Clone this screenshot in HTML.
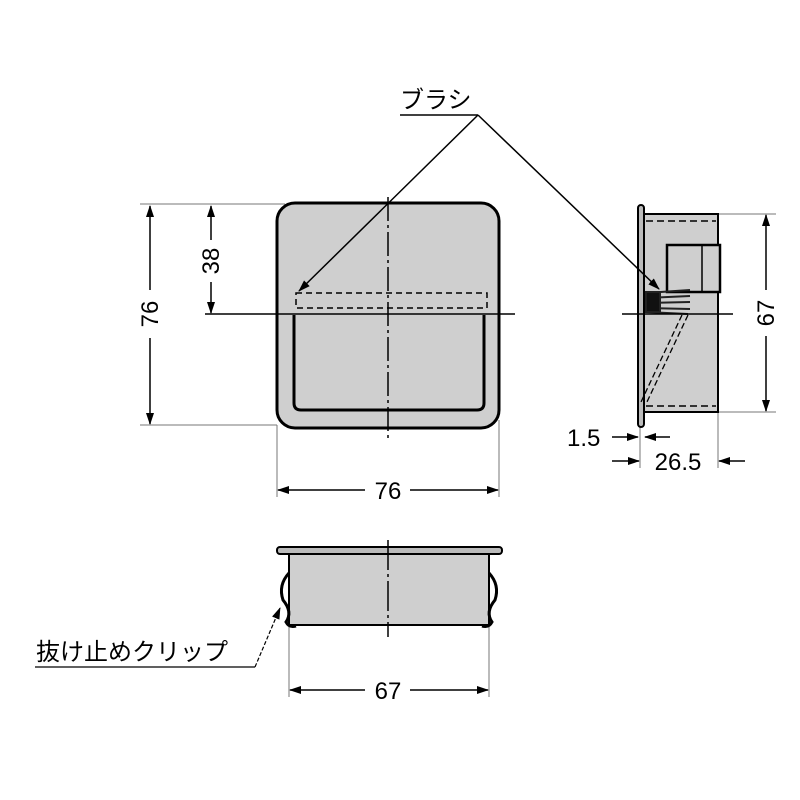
<!DOCTYPE html>
<html><head><meta charset="utf-8"><style>body{margin:0;background:#fff}svg{display:block}</style></head><body>
<svg width="800" height="800" viewBox="0 0 800 800" xmlns="http://www.w3.org/2000/svg">
<defs>
<marker id="a" markerWidth="12" markerHeight="8" refX="11" refY="4" orient="auto" markerUnits="userSpaceOnUse"><path d="M0,0 L12,4 L0,8 Z" fill="#000"/></marker>
</defs>
<g font-family="Liberation Sans, Noto Sans CJK JP, sans-serif" font-size="24" fill="#000">
<!-- front view -->
<rect x="277" y="203" width="222" height="225" rx="18" fill="#cfcfcf" stroke="#000" stroke-width="3"/>
<path d="M294,315 V403 Q294,410 301,410 H477 Q484,410 484,403 V315" fill="none" stroke="#000" stroke-width="3"/>
<rect x="296" y="293" width="191" height="15" fill="none" stroke="#000" stroke-width="1.5" stroke-dasharray="6,4"/>
<line x1="205" y1="314" x2="515" y2="314" stroke="#000" stroke-width="1.5"/>
<line x1="388" y1="197" x2="388" y2="438" stroke="#000" stroke-width="1.5" stroke-dasharray="24,4,3,4"/>
<!-- ext lines -->
<g stroke="#777" stroke-width="1">
<line x1="140" y1="204" x2="285" y2="204"/>
<line x1="140" y1="425" x2="277" y2="425"/>
<line x1="277" y1="425" x2="277" y2="497"/>
<line x1="499" y1="420" x2="499" y2="497"/>
<line x1="718" y1="214" x2="776" y2="214"/>
<line x1="718" y1="412" x2="776" y2="412"/>
<line x1="640" y1="420" x2="640" y2="468"/>
<line x1="718" y1="412" x2="718" y2="468"/>
<line x1="289" y1="625" x2="289" y2="697"/>
<line x1="489" y1="625" x2="489" y2="697"/>
</g>
<!-- dims -->
<g stroke="#000" stroke-width="1.5">
<line x1="150" y1="290" x2="150" y2="206" marker-end="url(#a)"/>
<line x1="150" y1="338" x2="150" y2="424" marker-end="url(#a)"/>
<line x1="211" y1="240" x2="211" y2="206" marker-end="url(#a)"/>
<line x1="211" y1="282" x2="211" y2="313" marker-end="url(#a)"/>
<line x1="365" y1="490" x2="278" y2="490" marker-end="url(#a)"/>
<line x1="410" y1="490" x2="498" y2="490" marker-end="url(#a)"/>
<line x1="766" y1="290" x2="766" y2="215" marker-end="url(#a)"/>
<line x1="766" y1="336" x2="766" y2="411" marker-end="url(#a)"/>
<line x1="612" y1="437" x2="638" y2="437" marker-end="url(#a)"/>
<line x1="670" y1="437" x2="645" y2="437" marker-end="url(#a)"/>
<line x1="612" y1="461" x2="639" y2="461" marker-end="url(#a)"/>
<line x1="745" y1="461" x2="719" y2="461" marker-end="url(#a)"/>
<line x1="365" y1="690" x2="290" y2="690" marker-end="url(#a)"/>
<line x1="410" y1="690" x2="488" y2="690" marker-end="url(#a)"/>
</g>
<text transform="translate(158,314) rotate(-90)" text-anchor="middle">76</text>
<text transform="translate(219,261) rotate(-90)" text-anchor="middle">38</text>
<text x="388" y="499" text-anchor="middle">76</text>
<text transform="translate(774,313) rotate(-90)" text-anchor="middle">67</text>
<text x="567" y="446">1.5</text>
<text x="678" y="470" text-anchor="middle">26.5</text>
<text x="388" y="699" text-anchor="middle">67</text>
<!-- side view -->
<rect x="644" y="214" width="74" height="198" fill="#cfcfcf" stroke="#000" stroke-width="2"/>
<rect x="638" y="205" width="6" height="222" rx="3" fill="#bbb" stroke="#000" stroke-width="2"/>
<line x1="646" y1="221" x2="716" y2="221" stroke="#000" stroke-width="1.5" stroke-dasharray="7,4"/>
<line x1="646" y1="406" x2="716" y2="406" stroke="#000" stroke-width="1.5" stroke-dasharray="7,4"/>
<rect x="667" y="245" width="53" height="47" fill="#cfcfcf" stroke="#000" stroke-width="2.5"/>
<line x1="702" y1="245" x2="702" y2="292" stroke="#000" stroke-width="1.5"/>
<g stroke="#222" stroke-width="2">
<line x1="646" y1="293" x2="690" y2="290"/><line x1="646" y1="298" x2="690" y2="296"/><line x1="646" y1="303" x2="690" y2="302"/><line x1="646" y1="308" x2="690" y2="309"/><line x1="646" y1="312" x2="688" y2="314"/>
<rect x="646" y="292" width="14" height="20" fill="#111"/>
</g>
<line x1="622" y1="314" x2="733" y2="314" stroke="#000" stroke-width="1.5"/>
<line x1="682" y1="315" x2="641" y2="402" stroke="#000" stroke-width="1.3" stroke-dasharray="6,3"/>
<line x1="688" y1="315" x2="646" y2="404" stroke="#000" stroke-width="1.3" stroke-dasharray="6,3"/>
<!-- brush label -->
<text x="400" y="108">ブラシ</text>
<line x1="400" y1="115" x2="478" y2="115" stroke="#000" stroke-width="1.5"/>
<line x1="478" y1="115" x2="299" y2="291" stroke="#000" stroke-width="1.5" marker-end="url(#a)"/>
<line x1="478" y1="115" x2="659" y2="289" stroke="#000" stroke-width="1.5" marker-end="url(#a)"/>
<!-- bottom view -->
<rect x="289" y="553" width="200" height="72" fill="#cfcfcf" stroke="#000" stroke-width="2"/>
<rect x="277" y="547" width="225" height="7" rx="3" fill="#bbb" stroke="#000" stroke-width="2"/>
<path d="M289,573 Q278,585 283,600 Q293,612 286,622 Q289,628 296,626" fill="none" stroke="#000" stroke-width="3"/>
<path d="M489,573 Q500,585 495,600 Q485,612 492,622 Q489,628 482,626" fill="none" stroke="#000" stroke-width="3"/>
<line x1="388" y1="540" x2="388" y2="637" stroke="#000" stroke-width="1.5" stroke-dasharray="30,4,3,4"/>
<text x="36" y="660">抜け止めクリップ</text>
<line x1="35" y1="667" x2="255" y2="667" stroke="#000" stroke-width="1.2"/>
<line x1="255" y1="667" x2="280" y2="608" stroke="#000" stroke-width="1.2" stroke-dasharray="4,2" marker-end="url(#a)"/>
</g>
</svg>
</body></html>
